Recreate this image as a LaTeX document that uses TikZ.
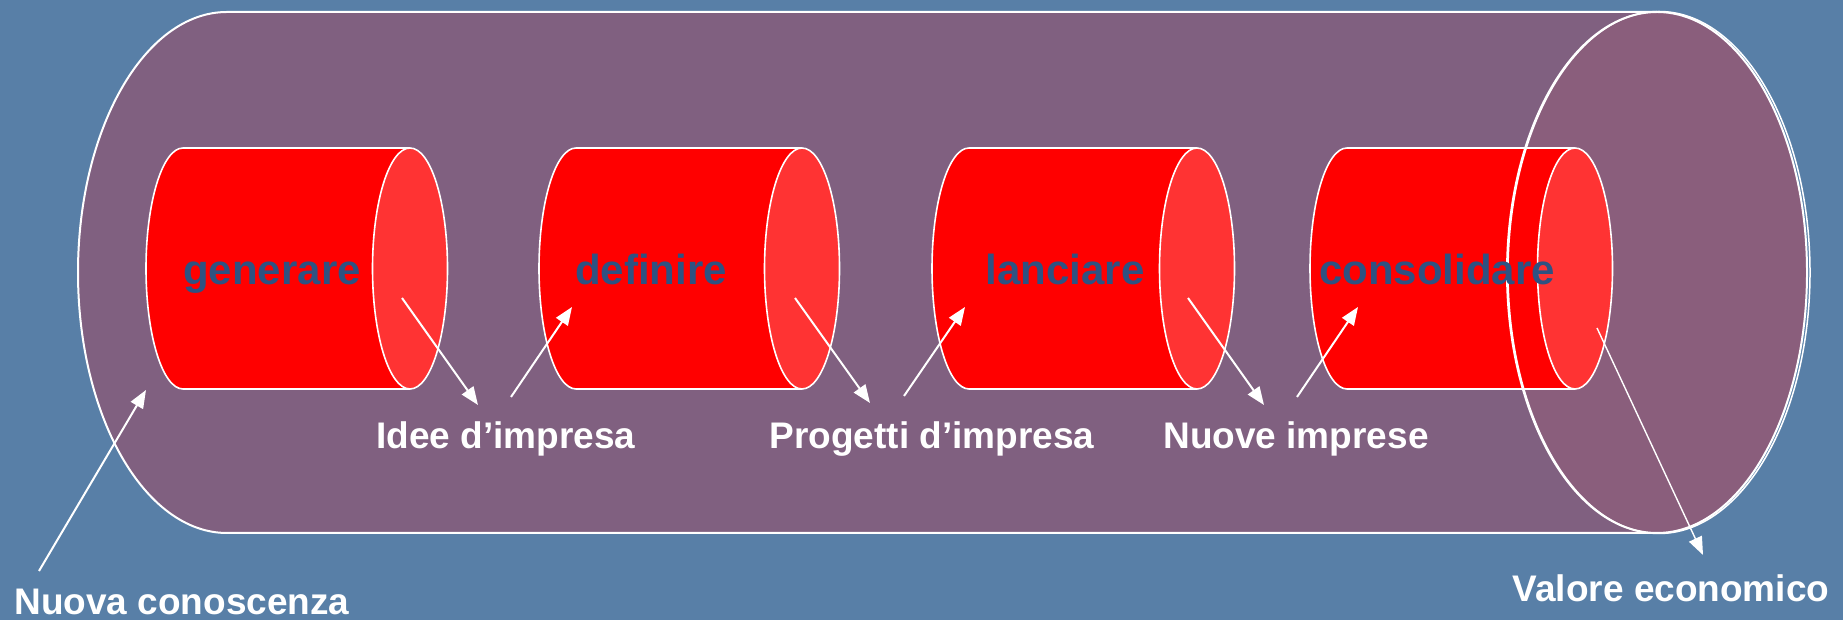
\documentclass[tikz,border=0pt]{standalone}
\usepackage{fontspec}
\setmainfont{Liberation Sans}
\usetikzlibrary{arrows.meta}
\definecolor{bgblue}{RGB}{88,127,167}
\definecolor{hatch}{RGB}{128,96,128}
\definecolor{hatchend}{RGB}{138,94,124}
\definecolor{cylred}{RGB}{255,0,0}
\definecolor{cylend}{RGB}{255,51,51}
\definecolor{lblblue}{RGB}{46,82,130}
\tikzset{
  outline/.style={draw=white, line width=2pt},
  cylline/.style={draw=white, line width=1.6pt},
  cylcap/.style={fill=cylend, draw=white, line width=1.6pt},
  flowarrow/.style={draw=white, line width=2pt, -{Triangle[length=18pt,width=14pt]}},
  thinarrow/.style={draw=white, line width=1.4pt, -{Triangle[length=18pt,width=14pt]}},
  steplabel/.style={font=\fontsize{42}{50}\selectfont\bfseries, text=lblblue, anchor=base, inner sep=0pt},
  flowtext/.style={font=\fontsize{37}{44}\selectfont\bfseries, text=white, anchor=base, inner sep=0pt}
}
\begin{document}
\begin{tikzpicture}[x=1pt,y=1pt]
\useasboundingbox (0,0) rectangle (1843,620);
\fill[bgblue] (0,0) rectangle (1843,620);

% big outer cylinder body
\fill[hatch] (227,608) -- (1657,608) -- (1657,87) -- (227,87)
  arc[start angle=270, end angle=90, x radius=149, y radius=260.5] -- cycle;
\draw[outline] (1657,608) -- (227,608)
  arc[start angle=90, end angle=270, x radius=149, y radius=260.5] -- (1657,87);
% big right end face (fill)
\fill[hatchend] (1657,347.5) ellipse[x radius=150, y radius=260.5];

% small cylinders
\foreach \L/\R/\n in {183/410/c1, 576/802/c2, 969/1197/c3, 1347/1575/c4}{
  \fill[cylred] (\L,472) -- (\R,472) -- (\R,231) -- (\L,231)
    arc[start angle=270, end angle=90, x radius=37, y radius=120.5] -- cycle;
  \draw[cylline] (\R,472) -- (\L,472)
    arc[start angle=90, end angle=270, x radius=37, y radius=120.5] -- (\R,231);
  \filldraw[cylcap] (\R,351.5) ellipse[x radius=37.5, y radius=120.5];
  \coordinate (\n-cap) at (\R,351.5);
}

% big right end face (outline, double)
\draw[outline] (1657,347.5) ellipse[x radius=150, y radius=260.5];
\draw[white, line width=1.5pt] (1659,347.5) ellipse[x radius=151, y radius=261];

% step labels
\node[steplabel] (gen) at (272,335) {generare};
\node[steplabel] (def) at (651,335) {definire};
\node[steplabel] (lan) at (1065,335) {lanciare};
\node[steplabel] (con) at (1437,335) {consolidare};

% flow texts
\node[flowtext] (idee) at (506,171) {Idee d’impresa};
\node[flowtext] (prog) at (932,171) {Progetti d’impresa};
\node[flowtext] (nuove) at (1296,171) {Nuove imprese};
\node[flowtext] (know) at (182,5) {Nuova conoscenza};
\node[flowtext] (valore) at (1671,18) {Valore economico};

% arrow end points
\coordinate (a0s) at (39,49);    \coordinate (a0e) at (146,230);
\coordinate (a1s) at (402,322);  \coordinate (a1e) at (478,215);
\coordinate (a2s) at (511,223);  \coordinate (a2e) at (572,313);
\coordinate (a3s) at (795,322);  \coordinate (a3e) at (870,217);
\coordinate (a4s) at (904,224);  \coordinate (a4e) at (965,313);
\coordinate (a5s) at (1188,322); \coordinate (a5e) at (1264,215);
\coordinate (a6s) at (1297,223); \coordinate (a6e) at (1358,313);
\coordinate (a7s) at (1597,292); \coordinate (a7e) at (1703,65);

\draw[flowarrow] (a0s) -- (a0e);
\draw[flowarrow] (a1s) -- (a1e);
\draw[flowarrow] (a2s) -- (a2e);
\draw[flowarrow] (a3s) -- (a3e);
\draw[flowarrow] (a4s) -- (a4e);
\draw[flowarrow] (a5s) -- (a5e);
\draw[flowarrow] (a6s) -- (a6e);
\draw[thinarrow] (a7s) -- (a7e);
\end{tikzpicture}
\end{document}
